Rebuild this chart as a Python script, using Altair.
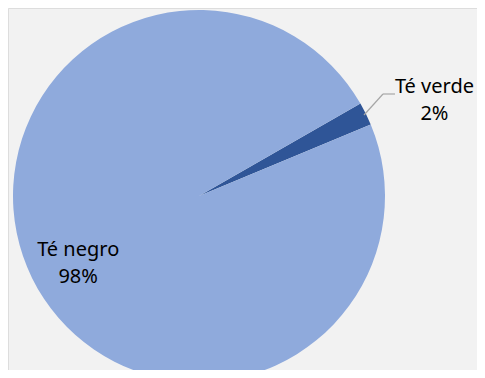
import altair as alt
import pandas as pd
import math

categories = ["Té verde", "Té negro"]
values = [2, 98]
colors = ["#2F5597", "#8FAADC"]
order = [0, 1]

df = pd.DataFrame({
    "cat": categories,
    "val": values,
    "ord": order,
    "label": [f"{c}\n{v}%" for c, v in zip(categories, values)],
})

start = math.radians(60.2)
theta_scale = alt.Scale(range=[start, start + 2 * math.pi])
CX, CY = 191, 188

base = alt.Chart(df).encode(
    theta=alt.Theta("val:Q", stack=True, scale=theta_scale),
    order=alt.Order("ord:Q"),
    x=alt.value(CX),
    y=alt.value(CY),
)

pie = base.mark_arc(radius=186).encode(
    color=alt.Color("cat:N", scale=alt.Scale(domain=categories, range=colors), legend=None)
)

txt_style = dict(font="Noto Sans", fontSize=20, lineBreak="\n", lineHeight=27,
                 align="center", baseline="middle", color="#000000")

lbl_in = base.mark_text(radius=138, dx=3, dy=-7, **txt_style).encode(
    text="label:N",
    opacity=alt.condition(alt.datum.cat == "Té negro", alt.value(1), alt.value(0)),
)
lbl_out = base.mark_text(radius=200, dx=56, dy=-21, **txt_style).encode(
    text="label:N",
    opacity=alt.condition(alt.datum.cat == "Té verde", alt.value(1), alt.value(0)),
)

lead = pd.DataFrame({"x": [356, 375], "y": [107, 86], "x2": [375, 387], "y2": [86, 86]})
leader = alt.Chart(lead).mark_rule(color="#A6A6A6", strokeWidth=1.2).encode(
    x=alt.X("x:Q", scale=None), y=alt.Y("y:Q", scale=None),
    x2="x2:Q", y2="y2:Q"
)

chart = alt.layer(pie, leader, lbl_in, lbl_out).properties(
    width=469, height=362, background="#F2F2F2", padding=0
).configure_view(stroke=None).configure(autosize=alt.AutoSizeParams(type="none"))

chart.save("out.html", embed_options={"renderer": "svg", "actions": False})
